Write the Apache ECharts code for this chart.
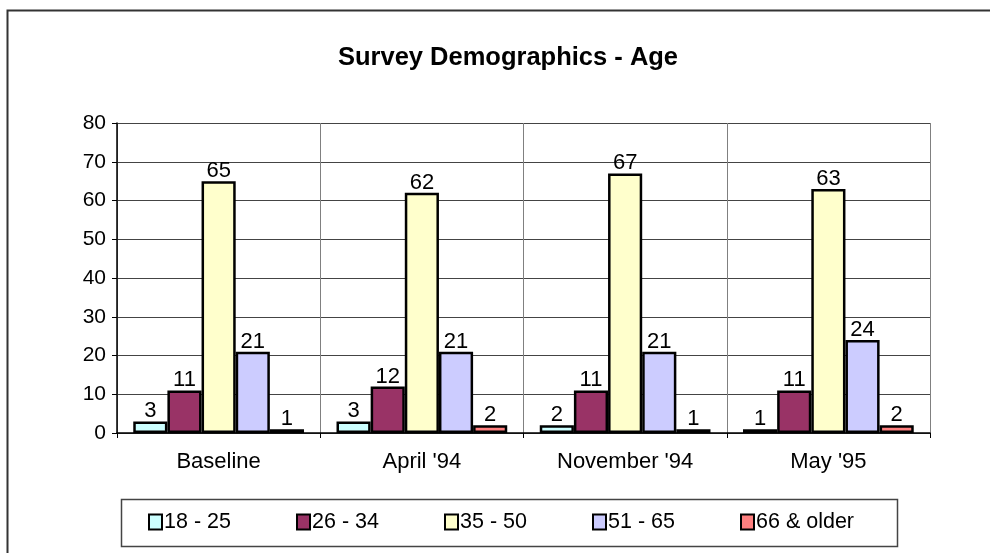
<!DOCTYPE html>
<html>
<head>
<meta charset="utf-8">
<script src="https://cdn.jsdelivr.net/npm/echarts@6/dist/echarts.min.js"></script>
<style>
  html, body { margin: 0; padding: 0; background: #fff; }
  #chart { width: 990px; height: 553px; }
</style>
</head>
<body>
<div id="chart"></div>
<script>
// Survey waves along the x axis
const categories = ['Baseline', "April '94", "November '94", "May '95"];

// Age groups (one series each) and their counts per wave
const seriesNames = ['18 - 25', '26 - 34', '35 - 50', '51 - 65', '66 & older'];
const age18to25 = [3, 3, 2, 1];
const age26to34 = [11, 12, 11, 11];
const age35to50 = [65, 62, 67, 63];
const age51to65 = [21, 21, 21, 24];
const age66plus = [1, 2, 1, 2];

const yTicks = [0, 10, 20, 30, 40, 50, 60, 70, 80];

const seriesValues = [age18to25, age26to34, age35to50, age51to65, age66plus];
const colors = ['#CCFFFF', '#993366', '#FFFFCC', '#CCCCFF', '#FF8080'];
const FONT = '"Liberation Sans", Arial, sans-serif';

const chart = echarts.init(document.getElementById('chart'), null, { renderer: 'canvas' });

const legends = seriesNames.map((name, i) => ({
  data: [name],
  left: 148 + i * 148,
  top: 511,
  padding: 0,
  itemWidth: 13,
  itemHeight: 15,
  itemGap: 0,
  icon: 'rect',
  selectedMode: false,
  textStyle: { fontFamily: FONT, fontSize: 21.5, color: '#000', padding: [0, 0, 0, -3] },
  itemStyle: { borderColor: '#000', borderWidth: 2 }
}));

chart.setOption({
  animation: false,
  backgroundColor: '#fff',
  color: colors,
  title: {
    text: 'Survey Demographics - Age',
    left: 503,
    textAlign: 'center',
    top: 40,
    textStyle: { fontFamily: FONT, fontSize: 25.5, fontWeight: 'bold', color: '#000' }
  },
  graphic: [
    {
      // outer chart frame
      type: 'rect', silent: true, z: -1,
      shape: { x: 7.5, y: 10.5, width: 1000, height: 600 },
      style: { fill: 'none', stroke: '#333', lineWidth: 2 }
    },
    {
      // legend frame
      type: 'rect', silent: true, z: -1,
      shape: { x: 121.5, y: 499.5, width: 776, height: 47 },
      style: { fill: '#fff', stroke: '#444', lineWidth: 1.5 }
    }
  ],
  legend: legends,
  grid: { left: 117, right: 60, top: 123, bottom: 120, containLabel: false },
  xAxis: {
    type: 'category',
    data: categories,
    boundaryGap: true,
    axisLine: { show: true, lineStyle: { color: '#000', width: 1.5 } },
    axisTick: { show: true, alignWithLabel: false, length: 5, lineStyle: { color: '#000' } },
    axisLabel: { fontFamily: FONT, fontSize: 22, color: '#000', margin: 18 },
    splitLine: { show: true, lineStyle: { color: '#808080', width: 1 } }
  },
  yAxis: {
    type: 'value',
    min: 0,
    max: 80,
    interval: 10,
    axisLine: { show: true, lineStyle: { color: '#000', width: 1.5 } },
    axisTick: { show: true, length: 5, lineStyle: { color: '#000' } },
    axisLabel: {
      fontFamily: FONT, fontSize: 21, color: '#000', margin: 11,
      formatter: v => (yTicks.includes(v) ? String(v) : '')
    },
    splitLine: { show: true, lineStyle: { color: '#444', width: 1 } }
  },
  series: seriesNames.map((name, i) => ({
    name,
    type: 'bar',
    data: seriesValues[i],
    barGap: '0%',
    barCategoryGap: '16%',
    itemStyle: { color: colors[i], borderColor: '#000', borderWidth: 2.5 },
    label: {
      show: true,
      position: 'top',
      distance: -1,
      fontFamily: FONT,
      fontSize: 22,
      color: '#000'
    }
  }))
});
</script>
</body>
</html>
